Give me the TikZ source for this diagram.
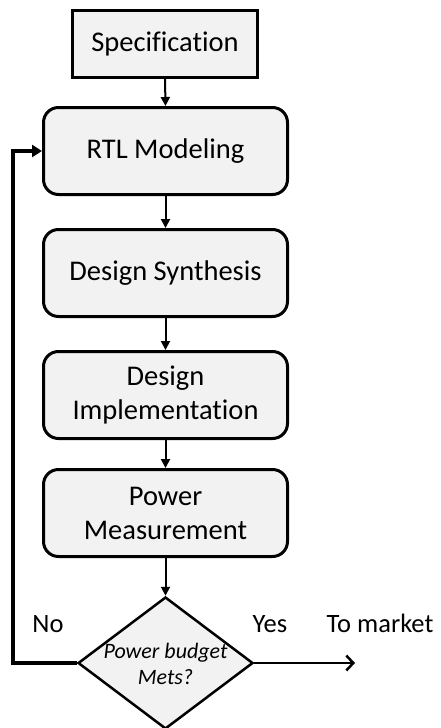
\documentclass[tikz,border=0pt]{standalone}
\usepackage{fontspec}
\setmainfont{Carlito}[Ligatures={NoCommon}]
\usetikzlibrary{shapes.geometric,arrows.meta}
\definecolor{boxfill}{HTML}{F2F2F2}
\tikzset{
  spec/.style={draw, line width=3pt, fill=boxfill, minimum width=185pt, minimum height=67pt, inner sep=0pt, font=\fontsize{28.5}{34}\selectfont, align=center},
  stage/.style={draw, line width=3pt, fill=boxfill, rounded corners=15pt, minimum width=244pt, minimum height=87pt, inner sep=0pt, font=\fontsize{28.5}{34}\selectfont, align=center},
  decide/.style={draw, line width=2.5pt, fill=boxfill, diamond, minimum width=175pt, minimum height=132pt, inner sep=0pt},
  dtext/.style={font=\fontsize{22}{26}\selectfont\itshape, align=center, inner sep=0pt},
  lbl/.style={font=\fontsize{26.5}{30}\selectfont, anchor=base, inner sep=0pt},
  flow/.style={line width=2pt, -{Triangle[length=9pt,width=9pt]}},
  backflow/.style={line width=3.5pt, -{Triangle[length=10pt,width=12pt]}},
  exitflow/.style={line width=2.5pt, -{Straight Barb[length=7pt,width=15pt,line width=2.5pt]}}
}
\begin{document}
\begin{tikzpicture}[x=1pt,y=-1pt]
\useasboundingbox (0,0) rectangle (441,728);
\node[spec]  (spec) at (165,44) {Specification};
\node[stage] (rtl)  at (165.5,151) {RTL Modeling};
\node[stage] (syn)  at (165.5,273) {Design Synthesis};
\node[stage] (imp)  at (165.5,395) {Design\\Implementation};
\node[stage] (pow)  at (165.5,513) {Power\\Measurement};
\node[decide] (dec) at (165.5,663) {};
\node[dtext] (dect) at (165.5,664) {Power budget\\Mets?};
\coordinate (cl) at (13,663);
\coordinate (cr) at (355,663);
\node[lbl] (no)  at (48,632) {No};
\node[lbl] (yes) at (270,632) {Yes};
\node[lbl] (mkt) at (380,632) {To market};
\draw[flow] (spec.south) -- (rtl.north);
\draw[flow] (rtl.south) -- (syn.north);
\draw[flow] (syn.south) -- (imp.north);
\draw[flow] (imp.south) -- (pow.north);
\draw[flow] (pow.south) -- (dec.north);
\draw[backflow] (dec.west) -- (cl) |- (rtl.west);
\draw[exitflow] (dec.east) -- (cr);
\end{tikzpicture}
\end{document}
